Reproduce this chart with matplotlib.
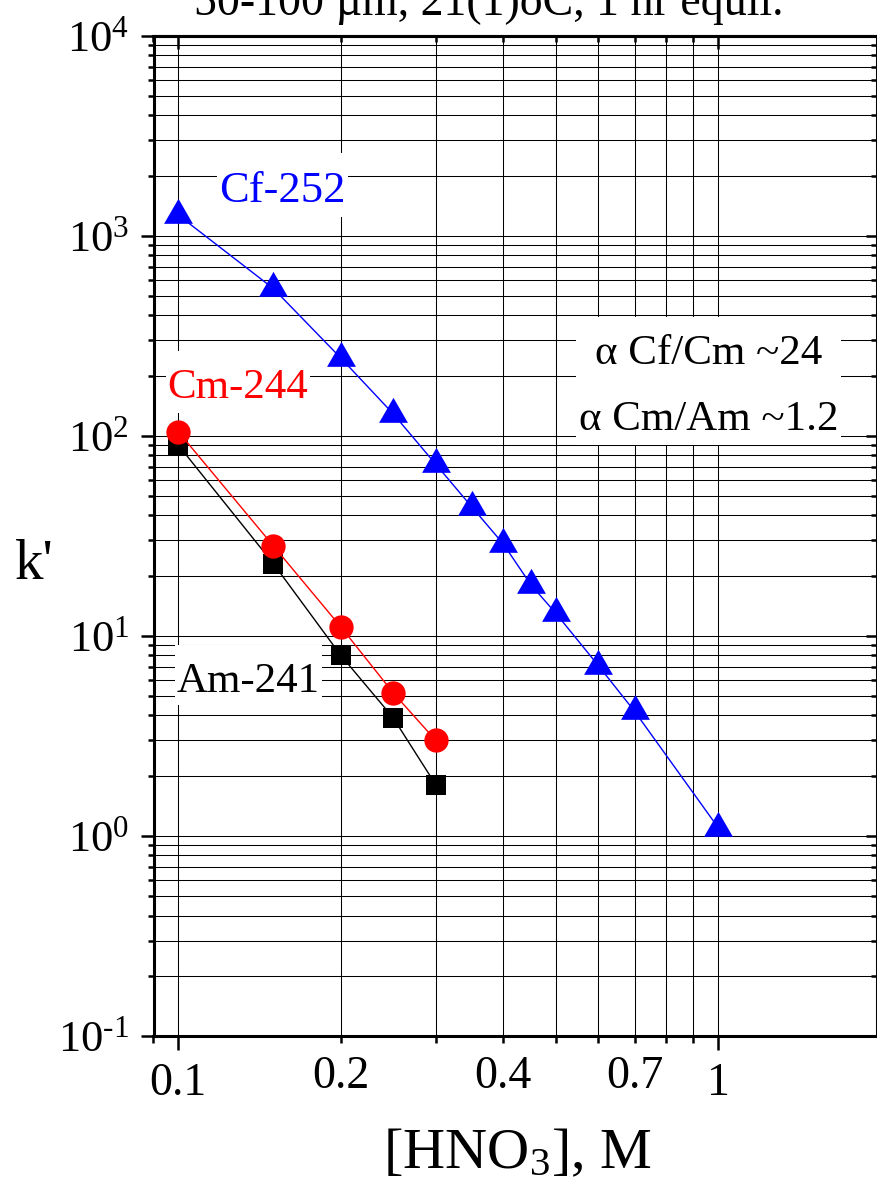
import numpy as np
import matplotlib
matplotlib.use("Agg")
import matplotlib.pyplot as plt
from matplotlib.path import Path
from matplotlib.ticker import FixedLocator, NullFormatter, FixedFormatter

plt.rcParams['font.family'] = ['Liberation Serif', 'DejaVu Serif']
plt.rcParams['mathtext.fontset'] = 'custom'
plt.rcParams['mathtext.rm'] = 'Liberation Serif'
plt.rcParams['mathtext.it'] = 'Liberation Serif:italic'

# data
hno3_cf = [0.1, 0.15, 0.2, 0.25, 0.3, 0.35, 0.4, 0.45, 0.5, 0.6, 0.7, 1.0]
k_cf = [1270, 545, 245, 129, 72, 44, 28.8, 18.0, 13.0, 7.1, 4.2, 1.10]
hno3_cm = [0.1, 0.15, 0.2, 0.25, 0.3]
k_cm = [105, 28.2, 11.1, 5.2, 3.0]
hno3_am = [0.1, 0.15, 0.2, 0.25, 0.3]
k_am = [90, 23.0, 8.0, 3.9, 1.8]

x_major = [0.1, 1.0]
x_minor = [0.09, 0.2, 0.3, 0.4, 0.5, 0.6, 0.7, 0.8, 0.9]
x_minor_labels = ['', '0.2', '', '0.4', '', '', '0.7', '', '']
x_major_labels = ['0.1', '1']
y_major = [1e-1, 1, 10, 100, 1e3, 1e4]
y_major_labels = [r'$10^{\text{-1}}$', '$10^{0}$', '$10^{1}$', '$10^{2}$',
                  '$10^{3}$', '$10^{4}$']
y_minor = [m * 10.0 ** e for e in range(-1, 4) for m in range(2, 10)]


def box_style(left, right, top, bottom):
    # white label box with its own padding on each side (in font sizes)
    def style(x0, y0, width, height, mutation_size):
        l = x0 - left * mutation_size
        r = x0 + width + right * mutation_size
        b = y0 - bottom * mutation_size
        t = y0 + height + top * mutation_size
        return Path([(l, b), (r, b), (r, t), (l, t), (l, b)], closed=True)
    return style


W, H = 877, 1185
fig = plt.figure(figsize=(W / 100, H / 100), dpi=100)
ax = fig.add_axes([153.5 / W, (H - 1036) / H, 723.7 / W, (1036 - 35.7) / H])
ax.set_xscale('log')
ax.set_yscale('log')
ax.set_xlim(0.09, 1.97)
ax.set_ylim(0.1, 1e4)

# equilateral triangle, centred on its centroid
tri = [(-1, -0.577), (1, -0.577), (0, 1.155)]

ax.plot(hno3_am, k_am, color='black', lw=1.0, marker='s', ms=15,
        mew=0, zorder=4)
ax.plot(hno3_cm, k_cm, color='red', lw=1.0, marker='o', ms=17.5,
        mew=0, zorder=4)
ax.plot(hno3_cf, k_cf, color='blue', lw=1.0, marker=tri, ms=24,
        mew=0, zorder=4)

# ticks
ax.xaxis.set_major_locator(FixedLocator(x_major))
ax.xaxis.set_major_formatter(FixedFormatter(x_major_labels))
ax.xaxis.set_minor_locator(FixedLocator(x_minor))
ax.xaxis.set_minor_formatter(FixedFormatter(x_minor_labels))

ax.yaxis.set_major_locator(FixedLocator(y_major))
ax.yaxis.set_major_formatter(FixedFormatter(y_major_labels))
ax.yaxis.set_minor_locator(FixedLocator(y_minor))
ax.yaxis.set_minor_formatter(NullFormatter())

ax.tick_params(axis='x', which='both', direction='out', bottom=True, top=False,
               labelsize=33, pad=9, width=1.8)
ax.tick_params(axis='x', which='major', length=10)
ax.tick_params(axis='x', which='minor', length=5)
ax.tick_params(axis='y', which='both', direction='out', left=True, right=False,
               labelsize=32, pad=8, width=1.8)
ax.tick_params(axis='y', which='major', length=9.5)
ax.tick_params(axis='y', which='minor', length=4.5)

# inward ticks on top and right
sec_x = ax.secondary_xaxis('top')
sec_x.xaxis.set_major_locator(FixedLocator(x_major))
sec_x.xaxis.set_minor_locator(FixedLocator(x_minor))
sec_x.xaxis.set_major_formatter(NullFormatter())
sec_x.xaxis.set_minor_formatter(NullFormatter())
sec_x.tick_params(which='both', direction='in', width=1.8)
sec_x.tick_params(which='major', length=9.5)
sec_x.tick_params(which='minor', length=4.5)
sec_x.spines['top'].set_linewidth(2.2)

sec_y = ax.secondary_yaxis('right')
sec_y.yaxis.set_major_locator(FixedLocator(y_major))
sec_y.yaxis.set_minor_locator(FixedLocator(y_minor))
sec_y.yaxis.set_major_formatter(NullFormatter())
sec_y.yaxis.set_minor_formatter(NullFormatter())
sec_y.tick_params(which='both', direction='in', width=1.8)
sec_y.tick_params(which='major', length=8)
sec_y.tick_params(which='minor', length=4)

for s in ax.spines.values():
    s.set_linewidth(2.2)

ax.set_axisbelow(True)
ax.grid(True, which='both', color='black', lw=0.75)

# labels
ax.text(0.156, 1479, 'Cf-252', color='blue', fontsize=32, ha='center',
        va='baseline', zorder=3,
        bbox=dict(boxstyle=box_style(0.04, 0.04, 0.4, 0.15), fc='white', ec='none'))
ax.text(0.129, 155, 'Cm-244', color='red', fontsize=31, ha='center',
        va='baseline', zorder=3,
        bbox=dict(boxstyle=box_style(0.04, 0.04, 0.4, 0.14), fc='white', ec='none'))
ax.text(0.135, 5.25, 'Am-241', color='black', fontsize=31, ha='center',
        va='baseline', zorder=3,
        bbox=dict(boxstyle=box_style(0.04, 0.04, 0.4, 0.1), fc='white', ec='none'))
ax.text(0.959, 176, 'α Cf/Cm ~24\nα Cm/Am ~1.2', color='black', fontsize=31,
        ha='center', va='center', multialignment='center', linespacing=1.92,
        zorder=3,
        bbox=dict(boxstyle=box_style(0.06, 0.06, 0.4, 0.14), fc='white', ec='none'))

fig.text(489 / W, 1 - 15 / H, '50-100 µm, 21(1)oC, 1 hr equil.', fontsize=33,
         ha='center', va='baseline')
fig.text(517 / W, 1 - 1168 / H, '[HNO$_3$], M', fontsize=42, ha='center',
         va='baseline')
fig.text(15 / W, 1 - 579 / H, "k'", fontsize=41, ha='left', va='baseline')

fig.savefig('out.png', dpi=100)
